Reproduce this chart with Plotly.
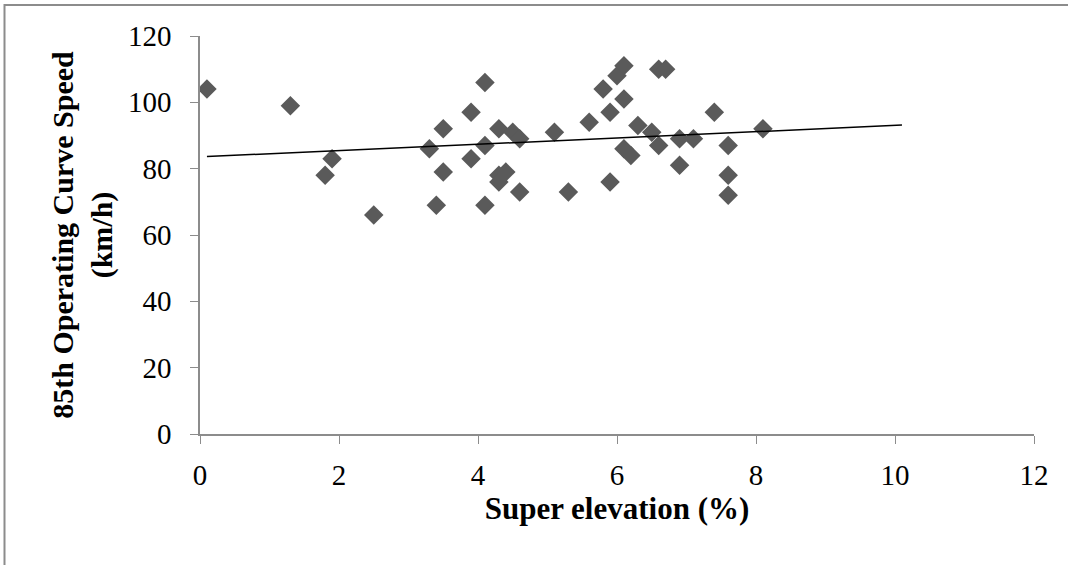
import numpy as np
import plotly.graph_objects as go

# Super elevation (%) and 85th percentile operating curve speed (km/h)
superelevation = [0.1, 1.3, 1.8, 1.9, 2.5, 3.3, 3.4, 3.5, 3.5, 3.9, 3.9,
                  4.1, 4.1, 4.1, 4.3, 4.3, 4.3, 4.4, 4.5, 4.6, 4.6, 5.1,
                  5.3, 5.6, 5.8, 5.9, 5.9, 6.0, 6.1, 6.1, 6.1, 6.2, 6.3,
                  6.5, 6.6, 6.6, 6.7, 6.9, 6.9, 7.1, 7.4, 7.6, 7.6, 7.6, 8.1]
speed_85th = [104, 99, 78, 83, 66, 86, 69, 92, 79, 97, 83,
              106, 87, 69, 92, 78, 76, 79, 91, 89, 73, 91,
              73, 94, 104, 97, 76, 108, 111, 101, 86, 84, 93,
              91, 87, 110, 110, 89, 81, 89, 97, 87, 78, 72, 92]

x_ticks = [0, 2, 4, 6, 8, 10, 12]
y_ticks = [0, 20, 40, 60, 80, 100, 120]
trend_forward = 2  # linear trendline extended 2 units past the last point

# Least-squares linear trendline
slope, intercept = np.polyfit(superelevation, speed_85th, 1)
trend_x = np.array([min(superelevation), max(superelevation) + trend_forward])
trend_y = slope * trend_x + intercept

W, H = 1068, 565
ML, MR, MT, MB = 200, 34, 36, 131

fig = go.Figure()
fig.add_trace(go.Scatter(
    x=superelevation, y=speed_85th, mode="markers",
    marker=dict(symbol="diamond", size=15, color="#5a5a5a",
                line=dict(width=0)),
    showlegend=False,
))
fig.add_trace(go.Scatter(
    x=trend_x, y=trend_y, mode="lines",
    line=dict(color="black", width=1.5),
    showlegend=False,
))

axis_common = dict(
    showgrid=False, zeroline=False, showline=True,
    linecolor="#8c8c8c", linewidth=1.5,
    ticks="outside", ticklen=8, tickwidth=1.2, tickcolor="#8c8c8c",
    tickfont=dict(family="Liberation Serif", size=29, color="black"),
)

fig.update_xaxes(
    range=[0, 12], tickvals=x_ticks, ticktext=[str(v) for v in x_ticks],
    title=dict(text="<b>Super elevation (%)</b>", standoff=0,
               font=dict(family="Liberation Serif", size=31, color="black")),
    ticklabelstandoff=6,
    **axis_common,
)
fig.update_yaxes(
    range=[0, 120], tickvals=y_ticks, ticktext=[str(v) for v in y_ticks],
    title=dict(text="<b>85th Operating Curve Speed<br>(km/h)</b>", standoff=6,
               font=dict(family="Liberation Serif", size=30, color="black")),
    ticklabelstandoff=13,
    **axis_common,
)

# outer frame around the chart area
pw, ph = W - ML - MR, H - MT - MB
fig.add_shape(
    type="rect", xref="paper", yref="paper",
    x0=(4.5 - ML) / pw, x1=(W + 10 - ML) / pw,
    y0=-(H + 10 - MT - ph) / ph, y1=1 + (MT - 5) / ph,
    line=dict(color="#8c8c8c", width=2), layer="below",
)

fig.update_layout(
    width=W, height=H,
    margin=dict(l=ML, r=MR, t=MT, b=MB),
    paper_bgcolor="white", plot_bgcolor="white",
)

fig.write_html("out.html")
